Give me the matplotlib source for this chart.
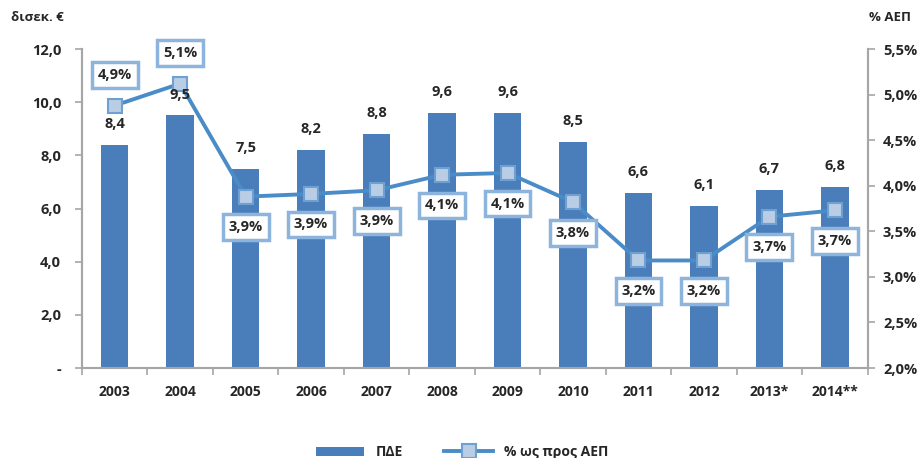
import matplotlib
matplotlib.use("Agg")
import matplotlib.pyplot as plt
from matplotlib.ticker import FixedLocator, FuncFormatter

plt.rcParams['font.family'] = ['Open Sans', 'DejaVu Sans']
plt.rcParams['font.weight'] = 'bold'

# δεδομένα
years = ['2003', '2004', '2005', '2006', '2007', '2008', '2009', '2010',
         '2011', '2012', '2013*', '2014**']
pde = [8.4, 9.5, 7.5, 8.2, 8.8, 9.6, 9.6, 8.5, 6.6, 6.1, 6.7, 6.8]
pct_gdp = [4.88, 5.12, 3.88, 3.91, 3.95, 4.12, 4.14, 3.82, 3.18, 3.18, 3.66, 3.73]
pct_labels = ['4,9%', '5,1%', '3,9%', '3,9%', '3,9%', '4,1%', '4,1%', '3,8%',
              '3,2%', '3,2%', '3,7%', '3,7%']
left_ticks = [0, 2, 4, 6, 8, 10, 12]
right_ticks = [2.0, 2.5, 3.0, 3.5, 4.0, 4.5, 5.0, 5.5]

bar_color = '#4a7ebb'
line_color = '#4a8cc8'
box_edge = '#8db4dc'
txt = '#262626'
axis_gray = '#a6a6a6'

fig = plt.figure(figsize=(9.24, 4.58), dpi=100)
ax = fig.add_axes([0.0887, 0.1965, 0.8503, 0.6965])
ax2 = ax.twinx()

x = list(range(len(years)))
bars = ax.bar(x, pde, width=0.42, color=bar_color, zorder=2, label='ΠΔΕ')

ax.set_xlim(-0.5, len(years) - 0.5)
ax.set_ylim(0, 12)
ax.yaxis.set_major_locator(FixedLocator(left_ticks))
ax.yaxis.set_major_formatter(FuncFormatter(
    lambda v, p: '-' if v == 0 else f'{v:.1f}'.replace('.', ',')))
ax.set_xticks(x)
ax.set_xticklabels(years)
ax.set_xticks([i - 0.5 for i in range(len(years) + 1)], minor=True)
ax.tick_params(axis='x', which='major', length=0, pad=12, labelsize=10, labelcolor=txt)
ax.tick_params(axis='x', which='minor', length=5, color=axis_gray, width=1.2)
ax.tick_params(axis='y', length=5, color=axis_gray, width=1.2, labelsize=10.5,
               labelcolor=txt, pad=10)

ax2.set_ylim(2.0, 5.5)
ax2.yaxis.set_major_locator(FixedLocator(right_ticks))
ax2.yaxis.set_major_formatter(FuncFormatter(
    lambda v, p: f'{v:.1f}%'.replace('.', ',')))
ax2.tick_params(axis='y', length=5, color=axis_gray, width=1.2, labelsize=10.5,
                labelcolor=txt, pad=6)

for a in (ax, ax2):
    a.spines['top'].set_visible(False)
    for s in ('left', 'right', 'bottom'):
        a.spines[s].set_color(axis_gray)
        a.spines[s].set_linewidth(1.5)

line, = ax2.plot(x, pct_gdp, color=line_color, lw=2.8, marker='s', markersize=10,
                 markerfacecolor='#b9cde5', markeredgecolor='#6fa0d2',
                 markeredgewidth=1.5, zorder=3, label='% ως προς ΑΕΠ')

# ετικέτες ράβδων πάνω από τη γραμμή
for xi, v in zip(x, pde):
    ax2.annotate(f'{v:.1f}'.replace('.', ','), (xi, v), xycoords=ax.transData,
                 xytext=(0, 10), textcoords='offset points', ha='center',
                 va='bottom', fontsize=10.5, color=txt, fontweight='bold', zorder=4)

for i, (xi, v, lab) in enumerate(zip(x, pct_gdp, pct_labels)):
    dy = 22 if i < 2 else -22
    ax2.annotate(lab, (xi, v), xytext=(0, dy), textcoords='offset points',
                 ha='center', va='center', fontsize=10.5, color=txt,
                 fontweight='bold', zorder=5,
                 bbox=dict(boxstyle='square,pad=0.4', fc='white',
                           ec=box_edge, lw=2.5))

fig.text(0.012, 0.955, 'δισεκ. €', fontsize=9.5, color=txt, fontweight='bold')
fig.text(0.94, 0.955, '% ΑΕΠ', fontsize=9.5, color=txt, fontweight='bold')

fig.legend([bars, line], ['ΠΔΕ', '% ως προς ΑΕΠ'], loc='lower center',
           bbox_to_anchor=(0.5, -0.03), ncol=2, frameon=False, fontsize=10,
           handlelength=3.5, columnspacing=3, labelcolor=txt)

fig.savefig('out.png', dpi=100)
